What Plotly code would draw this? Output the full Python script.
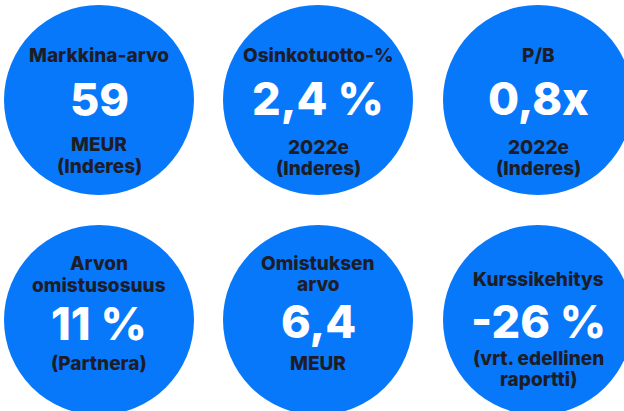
import plotly.graph_objects as go

# ---- data ----
titles = [["Markkina-arvo"], ["Osinkotuotto-%"], ["P/B"],
          ["Arvon", "omistusosuus"], ["Omistuksen", "arvo"], ["Kurssikehitys"]]
values = ["59", "2,4 %", "0,8x", "11 %", "6,4", "-26 %"]
subtitles = [["MEUR", "(Inderes)"], ["2022e", "(Inderes)"], ["2022e", "(Inderes)"],
             ["(Partnera)"], ["MEUR"], ["(vrt. edellinen", "raportti)"]]

# ---- layout ----
W, H = 624, 411
centers = [(99, 100), (318, 100), (538, 100), (99, 320), (318, 320), (538, 320)]
R = 95
BLUE = "rgb(8,120,251)"
DARK = "#1c1d28"
FONT = "Inter"

# per-circle line y positions (title lines, value, subtitle lines)
title_y = [[55], [55], [55], [263, 285], [263, 284], [279]]
value_y = [99, 98, 98, 323, 321, 321]
sub_y = [[144, 166], [147, 168], [147, 168], [363], [363], [358, 379]]

fig = go.Figure()
fig.add_trace(go.Scatter(x=[0, W], y=[0, H], mode="markers",
                         marker=dict(opacity=0), hoverinfo="skip", showlegend=False))

shapes = []
annotations = []
for i, (cx, cy) in enumerate(centers):
    shapes.append(dict(type="circle", xref="x", yref="y",
                       x0=cx - R, x1=cx + R, y0=cy - R, y1=cy + R,
                       fillcolor=BLUE, line=dict(width=0), layer="below"))
    for t, ty in zip(titles[i], title_y[i]):
        annotations.append(dict(x=cx, y=ty, xref="x", yref="y", text=t, showarrow=False,
                                xanchor="center", yanchor="middle",
                                font=dict(family=FONT, size=19, color=DARK, weight=800)))
    annotations.append(dict(x=cx, y=value_y[i], xref="x", yref="y", text=values[i],
                            showarrow=False, xanchor="center", yanchor="middle",
                            font=dict(family=FONT, size=45, color="white", weight=800)))
    for s, sy in zip(subtitles[i], sub_y[i]):
        annotations.append(dict(x=cx, y=sy, xref="x", yref="y", text=s, showarrow=False,
                                xanchor="center", yanchor="middle",
                                font=dict(family=FONT, size=19, color=DARK, weight=800)))

fig.update_layout(
    width=W, height=H, margin=dict(l=0, r=0, t=0, b=0),
    paper_bgcolor="white", plot_bgcolor="white",
    xaxis=dict(range=[0, W], visible=False, fixedrange=True),
    yaxis=dict(range=[H, 0], visible=False, fixedrange=True),
    shapes=shapes, annotations=annotations, showlegend=False,
)
fig.write_html("out.html", config={"displayModeBar": False},
               post_script="document.body.style.margin='0';document.body.style.overflow='hidden';")
